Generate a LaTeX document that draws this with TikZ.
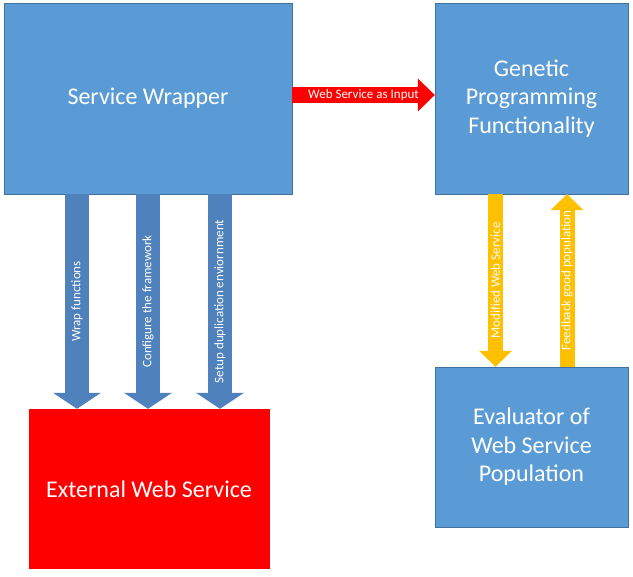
\documentclass[tikz,border=0pt]{standalone}
\usepackage{fontspec}
\setmainfont{Carlito}
\usetikzlibrary{arrows.meta}
\begin{document}
\begin{tikzpicture}[x=1pt,y=-1pt,
  box/.style={draw=boxline,fill=boxfill,text=white,align=center,inner sep=0pt,
    font=\fontsize{24}{28.5}\selectfont},
  bigarrow/.style={line width=24pt,draw=arrowblue,
    -{Triangle[length=16pt,width=48pt,line width=0pt]}},
  goldarrow/.style={line width=15pt,draw=arrowgold,
    -{Triangle[length=16pt,width=33pt,line width=0pt]}},
  redarrow/.style={line width=16pt,draw=red,
    -{Triangle[length=17pt,width=33pt,line width=0pt]}},
  lbl/.style={midway,text=white,inner sep=0pt,font=\fontsize{13}{15}\selectfont}]
\definecolor{boxfill}{RGB}{91,155,213}
\definecolor{boxline}{RGB}{65,113,156}
\definecolor{arrowblue}{RGB}{79,129,189}
\definecolor{arrowgold}{RGB}{255,192,0}
\useasboundingbox (0,0) rectangle (633,577);
\node[box,minimum width=288pt,minimum height=191pt] (wrapper) at (148,98.5) {Service Wrapper};
\node[box,minimum width=193pt,minimum height=191pt] (genetic) at (531.5,98.5) {Genetic\\Programming\\Functionality};
\node[box,minimum width=193pt,minimum height=160pt] (evaluator) at (531.5,447) {Evaluator of\\Web Service\\Population};
\node[box,draw=none,fill=red,minimum width=241pt,minimum height=160pt] (external) at (149,489) {External Web Service};
% wrapper to genetic programming
\draw[redarrow] ([yshift=3.5pt]wrapper.east) -- ([yshift=3.5pt]genetic.west)
  node[lbl] {Web Service as Input};
% wrapper to external service
\draw[bigarrow] ([xshift=-71pt]wrapper.south) -- ([xshift=-71pt]wrapper.south |- external.north)
  node[lbl,rotate=90] {Wrap functions};
\draw[bigarrow] (wrapper.south) -- (wrapper.south |- external.north)
  node[lbl,rotate=90] {Configure the framework};
\draw[bigarrow] ([xshift=72pt]wrapper.south) -- ([xshift=72pt]wrapper.south |- external.north)
  node[lbl,rotate=90] {Setup duplication enviornment};
% genetic programming and evaluator
\draw[goldarrow] ([xshift=-36pt]genetic.south) -- ([xshift=-36pt]evaluator.north)
  node[lbl,rotate=90] {Modified Web Service};
\draw[goldarrow] ([xshift=35.5pt]evaluator.north) -- ([xshift=35.5pt]genetic.south)
  node[lbl,rotate=90] {Feedback good population};
\end{tikzpicture}
\end{document}
